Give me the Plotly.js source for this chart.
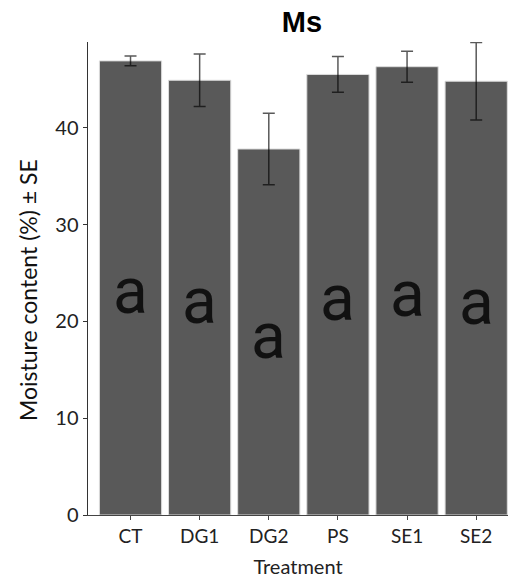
<!DOCTYPE html>
<html>
<head>
<meta charset="utf-8">
<script src="https://cdn.plot.ly/plotly-3.0.1.min.js"></script>
<style>html,body{margin:0;padding:0;background:#fff;}#chart{width:508px;height:579px;}</style>
</head>
<body>
<div id="chart"></div>
<script>
const treatments = ['CT', 'DG1', 'DG2', 'PS', 'SE1', 'SE2'];
const meanMoisture = [46.9, 44.9, 37.8, 45.5, 46.3, 44.8];
const seMoisture = [0.5, 2.7, 3.7, 1.85, 1.6, 4.0];
const groupLetters = ['a', 'a', 'a', 'a', 'a', 'a'];

const trace = {
  type: 'bar',
  x: treatments,
  y: meanMoisture,
  width: 0.9,
  marker: {color: '#595959', line: {color: '#dcdcdc', width: 1}},
  error_y: {type: 'data', array: seMoisture, visible: true, color: 'rgba(0,0,0,0.65)', thickness: 1.5, width: 6},
  hoverinfo: 'skip'
};

const annotations = treatments.map((t, i) => ({
  x: t, y: meanMoisture[i] / 2, xref: 'x', yref: 'y',
  text: groupLetters[i], showarrow: false,
  xanchor: 'center', yanchor: 'middle', yshift: -4,
  font: {family: 'Roboto, sans-serif', size: 64, color: '#111'}
}));

annotations.push({
  xref: 'paper', yref: 'paper', x: -88 / 420 + 28 / 420, y: (515 - 290) / 473,
  xanchor: 'center', yanchor: 'middle', showarrow: false, textangle: -90,
  text: 'Moisture content (%) ± SE',
  font: {family: 'Lato, sans-serif', size: 23, color: '#111'}
});

const layout = {
  width: 508, height: 579,
  margin: {l: 88, r: 0, t: 42, b: 64},
  paper_bgcolor: '#fff', plot_bgcolor: '#fff',
  showlegend: false,
  title: {
    text: '<b>Ms</b>', xref: 'container', yref: 'container',
    x: 302 / 508, xanchor: 'center', y: 1 - 22 / 579, yanchor: 'middle',
    font: {family: 'Liberation Sans, Arial, sans-serif', size: 29, color: '#000'}
  },
  xaxis: {
    type: 'category', range: [-0.615, 5.46],
    showline: true, linecolor: '#444', linewidth: 1,
    ticks: 'outside', ticklen: 4, tickcolor: '#444',
    showgrid: false, zeroline: false,
    tickfont: {family: 'Lato, sans-serif', size: 19, color: '#222'},
    title: {text: 'Treatment', standoff: 14, font: {family: 'Lato, sans-serif', size: 20, color: '#222'}}
  },
  yaxis: {
    range: [0, 48.85], dtick: 10,
    showline: true, linecolor: '#333', linewidth: 1.5,
    ticks: 'outside', ticklen: 4, tickcolor: '#333',
    showgrid: false, zeroline: false,
    tickfont: {family: 'Lato, sans-serif', size: 20, color: '#222'}
  },
  annotations: annotations
};

Plotly.newPlot('chart', [trace], layout, {displayModeBar: false, staticPlot: true});
</script>
</body>
</html>
